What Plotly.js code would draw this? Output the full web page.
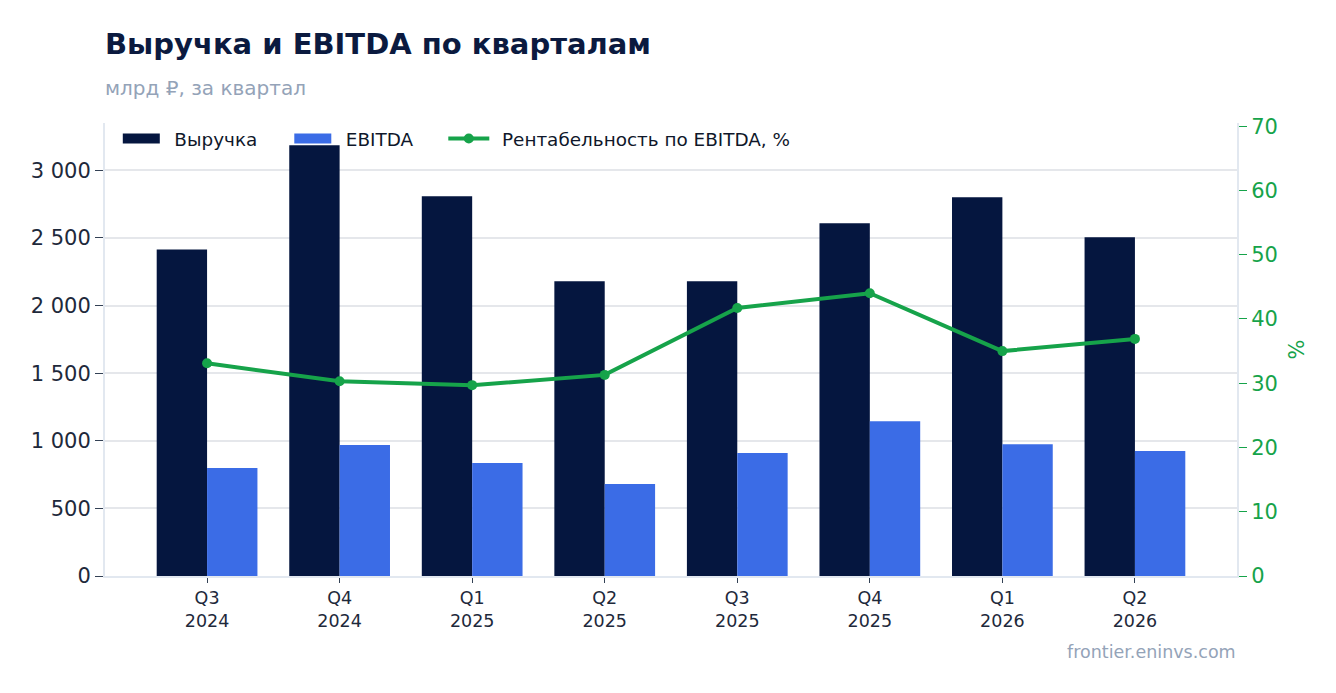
<!DOCTYPE html>
<html>
<head>
<meta charset="utf-8">
<script src="https://cdn.plot.ly/plotly-3.0.1.min.js"></script>
<style>html,body{margin:0;padding:0;background:#fff;}#chart{width:1336px;height:693px;}</style>
</head>
<body>
<div id="chart"></div>
<script>
const quarters = ["Q3<br>2024","Q4<br>2024","Q1<br>2025","Q2<br>2025","Q3<br>2025","Q4<br>2025","Q1<br>2026","Q2<br>2026"];
const revenue = [2415, 3185, 2808, 2180, 2180, 2608, 2800, 2505];
const ebitda = [798, 968, 835, 680, 909, 1145, 975, 924];
const margin = [33.1, 30.3, 29.7, 31.3, 41.7, 44.0, 35.0, 36.9];
const seriesNames = ["Выручка", "EBITDA", "Рентабельность по EBITDA, %"];

const font = "DejaVu Sans, sans-serif";
const navy = "#05163f", blue = "#3b6ce6", green = "#16a34a";
const empty = quarters.map(() => null);
const padBar = "\u00a0\u2009";
const padLine = "\u00a0\u200a";
const traces = [
  {type:"bar", name:seriesNames[0], x:quarters, y:revenue, marker:{color:navy}, showlegend:false},
  {type:"bar", name:seriesNames[1], x:quarters, y:ebitda, marker:{color:blue}, showlegend:false},
  {type:"scatter", mode:"lines+markers", name:padLine + seriesNames[2], x:quarters, y:margin, yaxis:"y2",
   line:{color:green, width:4}, marker:{color:green, size:10}, legend:"legend3"},
  // legend-only swatches for the bars (wide rectangles as in the reference)
  {type:"scatter", mode:"lines", name:padBar + seriesNames[0], x:quarters, y:empty, line:{color:navy, width:13}, legend:"legend"},
  {type:"scatter", mode:"lines", name:padBar + seriesNames[1], x:quarters, y:empty, line:{color:blue, width:13}, legend:"legend2"}
];
const legBase = {orientation:"h", y:1+3/453, xanchor:"left", yanchor:"top", bgcolor:"rgba(255,255,255,0)",
                 font:{size:18.4, color:"#0f172a", family:font}};
const layout = {
  width:1336, height:693,
  margin:{l:105, r:99, t:123, b:117},
  paper_bgcolor:"#fff", plot_bgcolor:"#fff",
  font:{family:font, color:"#1e293b"},
  separators:", ",
  barmode:"group", bargap:0.24, bargroupgap:0,
  title:{text:"<b>Выручка и EBITDA по кварталам</b>", x:105/1336, xanchor:"left", y:1-44/693, yanchor:"middle",
         font:{family:font, size:29, color:"#0b1a3f"}},
  xaxis:{range:[-0.77, 7.77], showline:true, linecolor:"#e2e8f0", linewidth:2, ticks:"outside", tickcolor:"#334155", ticklen:5,
         tickfont:{size:17.5, color:"#1e293b"}, showgrid:false, zeroline:false},
  yaxis:{range:[0,3350], dtick:500, tick0:0, showline:true, linecolor:"#e2e8f0", linewidth:2,
         ticks:"outside", tickcolor:"#334155", ticklen:8, tickfont:{size:21, color:"#1e293b"},
         gridcolor:"#e5e7eb", gridwidth:2, zeroline:false, tickformat:",d"},
  yaxis2:{overlaying:"y", side:"right", range:[0,70.5], dtick:10, tick0:0, showline:true, linecolor:"#e2e8f0", linewidth:2,
          ticks:"outside", tickcolor:green, ticklen:8, tickfont:{size:21, color:green}, showgrid:false, zeroline:false,
          title:{text:"%", font:{size:21, color:green}, standoff:12}},
  legend:Object.assign({}, legBase, {x:(117.8-105)/1132, itemwidth:37}),
  legend2:Object.assign({}, legBase, {x:(289.3-105)/1132, itemwidth:37}),
  legend3:Object.assign({}, legBase, {x:(443.3-105)/1132, itemwidth:41}),
  showlegend:true,
  annotations:[
    {text:"млрд ₽, за квартал", xref:"paper", yref:"paper", x:0, xshift:-2, y:1+(123-88)/453, xanchor:"left", yanchor:"middle",
     showarrow:false, font:{size:20, color:"#94a3b8"}},
    {text:"frontier.eninvs.com", xref:"paper", yref:"paper", x:1, xshift:1, y:-(652-576)/453, xanchor:"right", yanchor:"middle",
     showarrow:false, font:{size:17.5, color:"#94a3b8"}}
  ]
};
Plotly.newPlot("chart", traces, layout, {displayModeBar:false, staticPlot:true});
</script>
</body>
</html>
